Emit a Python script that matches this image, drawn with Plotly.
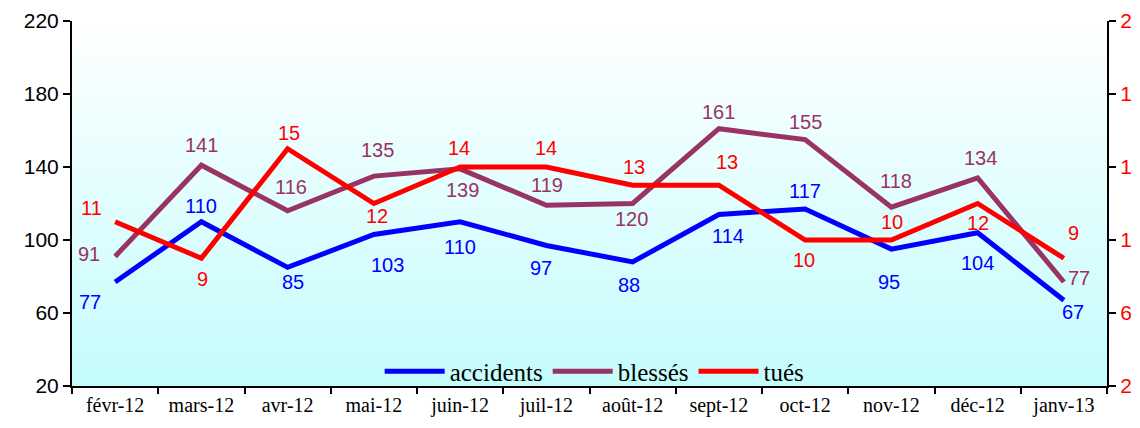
import base64
import plotly.graph_objects as go

months = ["févr-12", "mars-12", "avr-12", "mai-12", "juin-12", "juil-12",
          "août-12", "sept-12", "oct-12", "nov-12", "déc-12", "janv-13"]
accidents = [77, 110, 85, 103, 110, 97, 88, 114, 117, 95, 104, 67]
blesses = [91, 141, 116, 135, 139, 119, 120, 161, 155, 118, 134, 77]
tues = [11, 9, 15, 12, 14, 14, 13, 13, 10, 10, 12, 9]

left_ticks = [20, 60, 100, 140, 180, 220]
right_ticks = [2, 6, 10, 14, 18, 22]

# label offsets (pixels) per point: (dx, dy) with dy positive = downward
acc_off = [(-25, 20), (0, -16), (5, 15), (14, 30), (0, 25), (-5, 23),
           (-4, 23), (9, 22), (0, -18), (-2, 33), (0, 30), (9, 12)]
bl_off = [(-26, -2), (0, -20), (3, -24), (4, -26), (2, 21), (1, -20),
          (-1, 15), (0, -17), (0, -18), (5, -26), (3, -20), (15, -4)]
tu_off = [(-24, -14), (1, 21), (1, -16), (3, 12), (-1, -19), (0, -19),
          (1, -18), (8, -23), (-1, 20), (1, -18), (0, 19), (10, -25)]

BLUE = "#0000FF"
PLUM = "#993366"
RED = "#FF0000"

fig = go.Figure()
fig.add_trace(go.Scatter(x=months, y=accidents, name="accidents", mode="lines",
                         line=dict(color=BLUE, width=5)))
fig.add_trace(go.Scatter(x=months, y=blesses, name="blessés", mode="lines",
                         line=dict(color=PLUM, width=5)))
fig.add_trace(go.Scatter(x=months, y=tues, name="tués", mode="lines", yaxis="y2",
                         line=dict(color=RED, width=5)))

annotations = []
for vals, offs, col, yref in [(accidents, acc_off, BLUE, "y"),
                              (blesses, bl_off, PLUM, "y"),
                              (tues, tu_off, RED, "y2")]:
    for m, v, (dx, dy) in zip(months, vals, offs):
        annotations.append(dict(x=m, y=v, xref="x", yref=yref, text=str(v),
                                showarrow=False, xshift=dx, yshift=-dy,
                                font=dict(family="Liberation Sans, Arial", size=20, color=col)))

svg = ('<svg xmlns="http://www.w3.org/2000/svg" width="100" height="100" preserveAspectRatio="none">'
       '<defs><linearGradient id="g" x1="0" y1="0" x2="0" y2="1">'
       '<stop offset="0" stop-color="#FFFFFF"/><stop offset="1" stop-color="#C4FCFC"/>'
       '</linearGradient></defs><rect width="100" height="100" fill="url(#g)"/></svg>')
src = "data:image/svg+xml;base64," + base64.b64encode(svg.encode()).decode()

# the page body adds an 8px margin, so the figure is sized/offset to compensate
fig.update_layout(
    width=1132, height=420,
    margin=dict(l=64, r=33, t=13, b=42),
    paper_bgcolor="white",
    plot_bgcolor="rgba(0,0,0,0)",
    showlegend=True,
    legend=dict(orientation="h", x=0.505, y=0.04, xanchor="center", yanchor="middle",
                bgcolor="rgba(0,0,0,0)", font=dict(family="Liberation Serif, Times New Roman", size=25, color="black"),
                itemwidth=60, tracegroupgap=0),
    images=[dict(source=src, xref="paper", yref="paper", x=0, y=1, sizex=1, sizey=1,
                 xanchor="left", yanchor="top", sizing="stretch", layer="below")],
    annotations=annotations,
    xaxis=dict(type="category", showgrid=False, showline=True, linecolor="black", linewidth=2,
               ticks="outside", tickson="boundaries", ticklen=6, tickwidth=2, tickcolor="black",
               tickfont=dict(family="Liberation Serif, Times New Roman", size=20, color="black"),
               range=[-0.5, 11.5], mirror=False, zeroline=False, automargin=False),
    yaxis=dict(range=[20, 220], tickvals=left_ticks, showgrid=False, showline=True,
               linecolor="black", linewidth=2, ticks="outside", ticklen=7, tickwidth=2,
               tickcolor="black", zeroline=False, automargin=False,
               tickfont=dict(family="Liberation Sans, Arial", size=21, color="black")),
    yaxis2=dict(range=[2, 22], tickvals=right_ticks, overlaying="y", side="right",
                showgrid=False, showline=True, linecolor="black", linewidth=2,
                ticks="outside", ticklen=7, tickwidth=2, tickcolor="black", zeroline=False,
                automargin=False,
                tickfont=dict(family="Liberation Sans, Arial", size=21, color=RED)),
)

fig.write_html("out.html")
